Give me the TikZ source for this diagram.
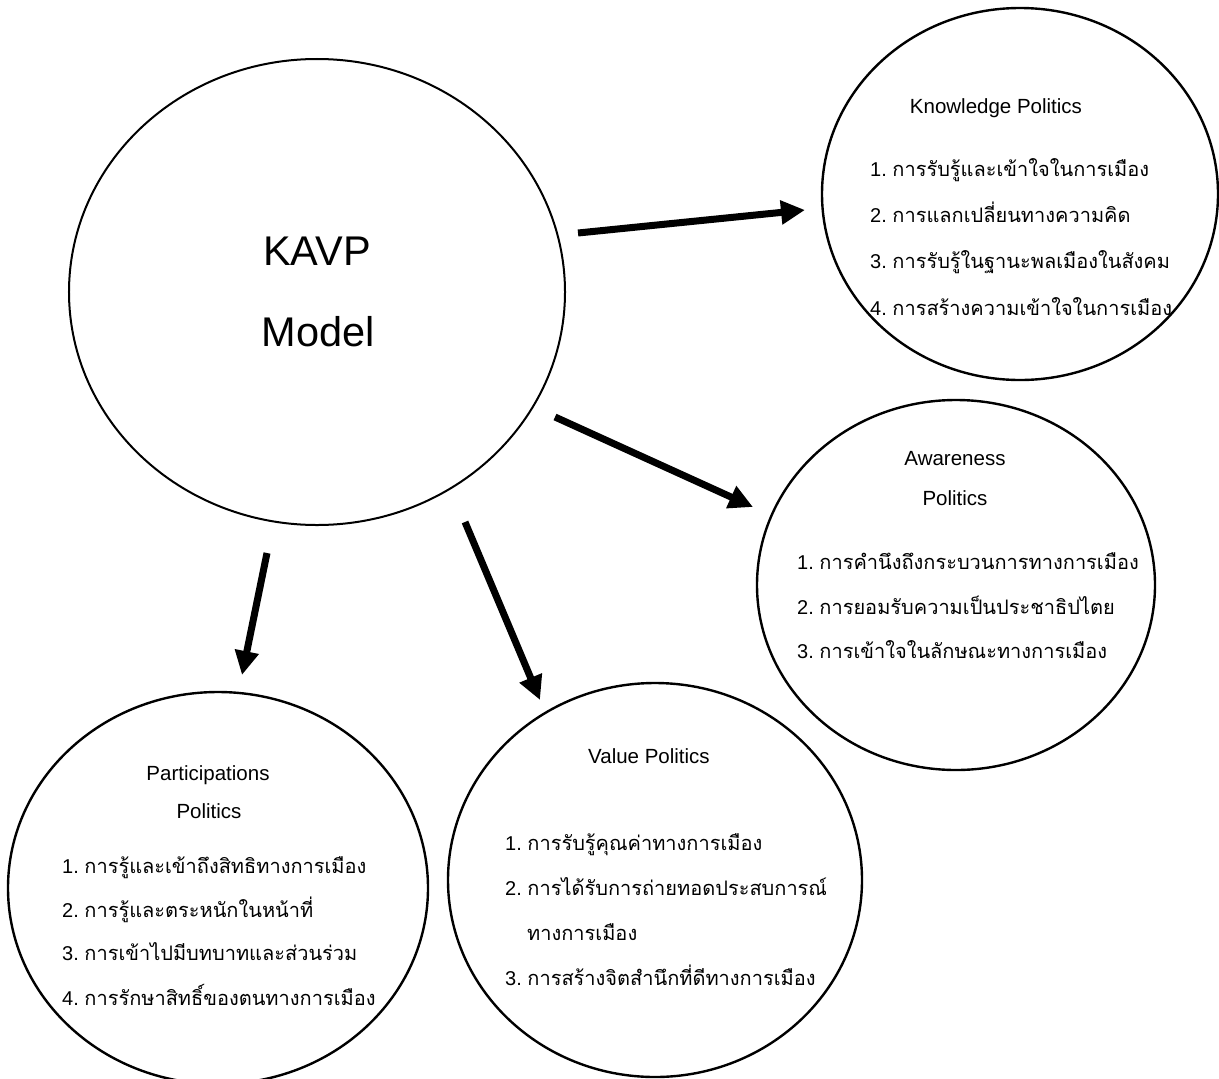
\documentclass[tikz,border=0pt]{standalone}
\usepackage{fontspec}
\setmainfont{Liberation Sans}
\newfontfamily\thaifont[Script=Thai]{Loma}
\usetikzlibrary{shapes.geometric,arrows.meta}
\newcommand\itx[2]{#1.\ {\thaifont #2}}
\tikzset{
  circ/.style={draw, ellipse, line width=2.4bp, inner sep=0pt},
  ttl/.style={anchor=base, inner sep=0pt, font=\fontsize{20.5bp}{22bp}\selectfont},
  itm/.style={anchor=base west, inner sep=0pt, font=\fontsize{20bp}{22bp}\selectfont},
  big/.style={anchor=base, inner sep=0pt, font=\fontsize{41.5bp}{44bp}\selectfont},
  bigarrow/.style={line width=7bp, -{Triangle[length=24bp,width=23bp]}}
}
\begin{document}
\begin{tikzpicture}[x=1bp,y=-1bp]
\useasboundingbox[fill=white] (0,0) rectangle (1219,1079);
% ellipses
\node[circ, line width=2bp, minimum width=496bp, minimum height=466bp] (kavp) at (317,292) {};
\node[circ, minimum width=396bp, minimum height=372bp] (know) at (1020,194) {};
\node[circ, minimum width=398bp, minimum height=370bp] (aware) at (956,585) {};
\node[circ, minimum width=420bp, minimum height=392bp] (part) at (218,888) {};
\node[circ, minimum width=414bp, minimum height=394bp] (value) at (655,880) {};
% KAVP text
\node[big] (k1) at (317,265) {KAVP};
\node[big] (k2) at (318,346) {Model};
% Knowledge
\node[ttl] (kt) at (996,113) {Knowledge Politics};
\node[itm] (kn1) at (870,176) {\itx{1}{การรับรู้และเข้าใจในการเมือง}};
\node[itm] (kn2) at (870,222) {\itx{2}{การแลกเปลี่ยนทางความคิด}};
\node[itm] (kn3) at (870,268) {\itx{3}{การรับรู้ในฐานะพลเมืองในสังคม}};
\node[itm] (kn4) at (870,315) {\itx{4}{การสร้างความเข้าใจในการเมือง}};
% Awareness
\node[ttl] (at1) at (955,465) {Awareness};
\node[ttl] (at2) at (955,505) {Politics};
\node[itm] (aw1) at (797,569) {\itx{1}{การคำนึงถึงกระบวนการทางการเมือง}};
\node[itm] (aw2) at (797,614) {\itx{2}{การยอมรับความเป็นประชาธิปไตย}};
\node[itm] (aw3) at (797,658) {\itx{3}{การเข้าใจในลักษณะทางการเมือง}};
% Participations
\node[ttl] (pt1) at (208,780) {Participations};
\node[ttl] (pt2) at (209,818) {Politics};
\node[itm] (pa1) at (62,873) {\itx{1}{การรู้และเข้าถึงสิทธิทางการเมือง}};
\node[itm] (pa2) at (62,917) {\itx{2}{การรู้และตระหนักในหน้าที่}};
\node[itm] (pa3) at (62,960) {\itx{3}{การเข้าไปมีบทบาทและส่วนร่วม}};
\node[itm] (pa4) at (62,1005) {\itx{4}{การรักษาสิทธิ์ของตนทางการเมือง}};
% Value
\node[ttl] (vt) at (649,763) {Value Politics};
\node[itm] (va1) at (505,850) {\itx{1}{การรับรู้คุณค่าทางการเมือง}};
\node[itm] (va2) at (505,895) {\itx{2}{การได้รับการถ่ายทอดประสบการณ์}};
\node[itm] (va2b) at (527,940) {{\thaifont ทางการเมือง}};
\node[itm] (va3) at (505,985) {\itx{3}{การสร้างจิตสำนึกที่ดีทางการเมือง}};
% arrows
\coordinate (a1s) at (578,233); \coordinate (a1e) at (805,210);
\coordinate (a2s) at (555,417); \coordinate (a2e) at (753,507);
\coordinate (a3s) at (465,522); \coordinate (a3e) at (540,700);
\coordinate (a4s) at (267,553); \coordinate (a4e) at (242,675);
\draw[bigarrow] (a1s) -- (a1e);
\draw[bigarrow] (a2s) -- (a2e);
\draw[bigarrow] (a3s) -- (a3e);
\draw[bigarrow] (a4s) -- (a4e);
\end{tikzpicture}
\end{document}
